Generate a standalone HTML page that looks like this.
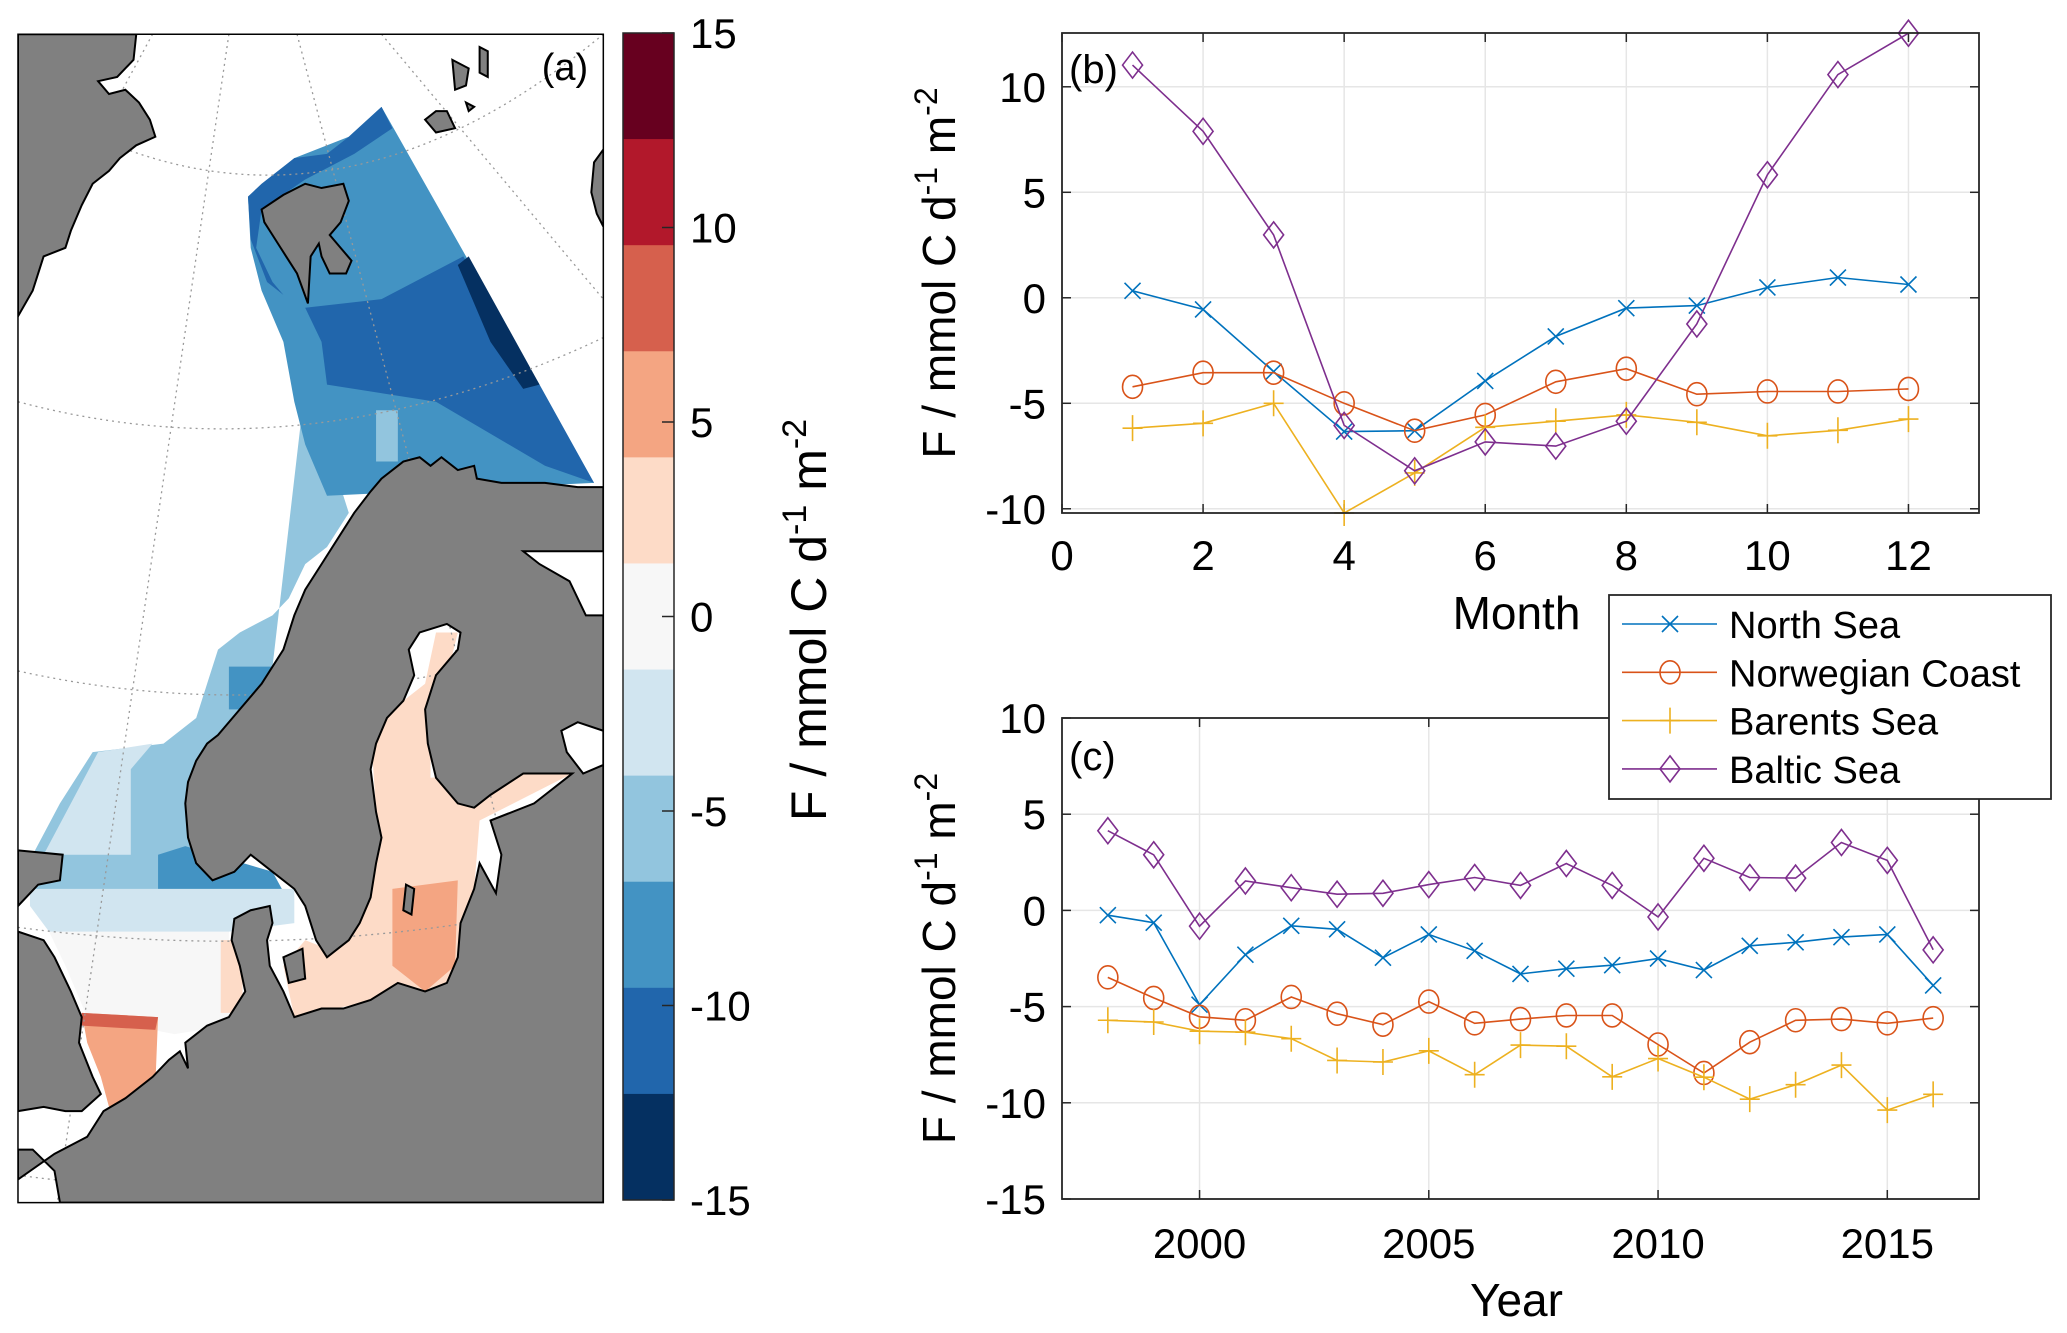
<!DOCTYPE html>
<html><head><meta charset="utf-8"><style>
html,body{margin:0;padding:0;background:#fff}
svg{display:block}
text{font-family:"Liberation Sans",Arial,sans-serif;fill:#000}
</style></head><body>
<svg id="fig" width="2067" height="1333" viewBox="0 0 2067 1333" xmlns="http://www.w3.org/2000/svg">
<defs><clipPath id="mapclip"><rect x="33" y="40" width="1074" height="1367"/></clipPath></defs>
<g transform="scale(0.545,0.8547)">
 <g clip-path="url(#mapclip)">
  <rect x="33" y="40" width="1074" height="1367" fill="#fff"/>
  <polygon fill="#92c5de" points="560,450 600,480 620,560 640,600 600,640 560,660 530,700 500,720 440,740 400,760 380,800 360,840 300,870 170,880 110,940 60,1000 55,1050 300,1050 400,1040 460,1000"/>
  <polygon fill="#4393c3" points="455,230 540,185 640,160 700,125 1090,565 600,580 560,520 540,470 520,400 480,340 460,290"/>
  <polygon fill="#2166ac" points="455,230 480,215 540,185 600,180 640,160 700,125 720,150 650,180 560,210 480,245 470,290 500,330 520,345 490,330 460,280"/>
  <polygon fill="#2166ac" points="560,360 700,350 850,300 990,450 1090,565 1000,545 800,470 600,450 590,400"/>
  <polygon fill="#053061" points="840,310 860,300 990,450 960,455 900,400"/>
  <polygon fill="#92c5de" points="690,480 730,480 730,540 690,540"/>
  <polygon fill="#4393c3" points="290,1000 340,990 500,1020 530,1055 290,1060"/>
  <polygon fill="#4393c3" points="420,780 500,780 500,830 420,830"/>
  <polygon fill="#d1e5f0" points="55,1040 540,1040 540,1080 420,1090 400,1130 200,1150 90,1090 55,1060"/>
  <polygon fill="#d1e5f0" points="80,1000 180,880 280,870 240,900 240,1000"/>
  <polygon fill="#f7f7f7" points="90,1090 420,1090 420,1200 320,1210 160,1190 120,1130"/>
  <polygon fill="#fddbc7" points="405,1100 445,1100 445,1185 405,1185"/>
  <polygon fill="#f4a582" points="150,1185 290,1190 285,1270 200,1295 185,1260 160,1220"/>
  <polygon fill="#d6604d" points="150,1185 290,1190 285,1205 150,1200"/>
  <polygon fill="#fddbc7" points="680,850 780,800 800,740 840,740 790,870 790,910 1000,900 1050,905 880,960 870,1040 840,1150 540,1190 520,1130 560,1100 600,1110 680,1050 690,950"/>
  <polygon fill="#f4a582" points="720,1040 840,1030 835,1130 780,1160 720,1130"/>
  <g fill="none" stroke="#999" stroke-width="1.3" stroke-dasharray="2,4">
   <path d="M33,110 Q560,330 1107,40" vector-effect="non-scaling-stroke"/>
   <path d="M33,470 Q560,560 1107,395" vector-effect="non-scaling-stroke"/>
   <path d="M33,785 Q560,860 1107,735" vector-effect="non-scaling-stroke"/>
   <path d="M33,1085 Q560,1130 1107,1050" vector-effect="non-scaling-stroke"/>
   <path d="M33,1375 Q560,1420 1107,1360" vector-effect="non-scaling-stroke"/>
   <path d="M420,40 L105,1407" vector-effect="non-scaling-stroke"/>
   <path d="M545,40 L760,560 L1080,1407" vector-effect="non-scaling-stroke"/>
   <path d="M700,40 L1107,350" vector-effect="non-scaling-stroke"/>
   <path d="M280,40 L33,330" vector-effect="non-scaling-stroke"/>
  </g>
  <g fill="#808080" stroke="#000" stroke-width="2">
   <polygon vector-effect="non-scaling-stroke" points="33,40 250,40 245,70 215,90 180,95 200,110 230,105 255,120 275,140 285,160 250,170 220,185 200,200 170,215 150,240 130,270 120,290 80,300 60,340 33,370"/>
   <polygon vector-effect="non-scaling-stroke" points="480,245 520,228 560,215 590,220 630,215 640,235 625,260 605,275 625,290 645,305 635,320 605,320 590,300 585,285 570,300 565,355 545,320 525,300 515,290 495,270 485,260"/>
   <polygon vector-effect="non-scaling-stroke" points="830,70 860,80 855,100 835,105"/>
   <polygon vector-effect="non-scaling-stroke" points="880,55 895,60 895,90 880,85"/>
   <polygon vector-effect="non-scaling-stroke" points="780,140 800,130 820,130 835,150 800,155"/>
   <polygon vector-effect="non-scaling-stroke" points="855,120 870,125 860,130"/>
   <polygon vector-effect="non-scaling-stroke" points="1090,190 1107,175 1107,265 1095,250 1085,225"/>
   <polygon vector-effect="non-scaling-stroke" points="33,995 115,1000 110,1030 70,1035 33,1060"/>
   <polygon vector-effect="non-scaling-stroke" points="33,1090 80,1100 100,1120 130,1160 150,1190 145,1220 170,1260 185,1280 150,1300 120,1300 80,1295 33,1300"/>
   <polygon vector-effect="non-scaling-stroke" points="700,560 740,540 770,535 790,545 810,535 840,550 870,545 875,560 920,565 1000,565 1060,570 1107,570 1107,645 960,645 990,660 1045,680 1075,720 1107,720 1107,1407 110,1407 100,1370 60,1345 33,1345 33,1380 100,1350 160,1330 190,1300 230,1285 280,1260 310,1240 330,1230 345,1250 340,1220 380,1200 420,1190 450,1160 440,1130 425,1100 430,1075 460,1065 495,1060 500,1080 490,1100 495,1130 520,1160 540,1190 590,1180 630,1180 680,1170 730,1150 780,1160 820,1150 840,1120 845,1080 870,1040 880,1010 910,1045 920,1000 900,960 980,940 1000,930 1040,910 1050,905 1000,905 960,905 900,930 870,945 840,940 800,910 785,870 780,830 800,790 840,760 845,740 820,730 770,740 750,760 760,790 740,820 710,840 690,870 680,900 690,950 700,980 690,1010 680,1050 660,1080 640,1100 620,1110 600,1120 580,1100 560,1060 540,1040 500,1020 460,1000 430,1020 390,1030 360,1010 345,980 340,940 345,915 360,890 380,870 400,860 440,830 480,800 520,760 540,720 560,690 590,660 620,630 650,600 680,575"/>
   <polygon vector-effect="non-scaling-stroke" points="520,1120 555,1110 560,1145 530,1150"/>
   <polygon vector-effect="non-scaling-stroke" points="745,1035 760,1040 755,1070 740,1065"/>
  </g>
  <polygon fill="#fff" stroke="#000" stroke-width="2" vector-effect="non-scaling-stroke" points="1030,855 1060,845 1107,855 1107,895 1070,905 1040,880"/>
 </g>
 <rect x="33" y="40" width="1074" height="1367" fill="none" stroke="#000" stroke-width="1.5" vector-effect="non-scaling-stroke"/>
</g>
<text x="565" y="80" font-size="38" text-anchor="middle">(a)</text>
<g id="cbar"></g>
<text transform="translate(826,620) rotate(-90)" font-size="50" text-anchor="middle">F / mmol C d<tspan dy="-20" font-size="34">-1</tspan><tspan dy="20"> m</tspan><tspan dy="-20" font-size="34">-2</tspan></text>
<g id="pb"></g>
<g id="pc"></g>
<g id="legend"></g>
</svg>
<script>
const NS='http://www.w3.org/2000/svg';
const cbarColors=['#67001f','#b2182b','#d6604d','#f4a582','#fddbc7','#f7f7f7','#d1e5f0','#92c5de','#4393c3','#2166ac','#053061'];
const cbarTicks=[15,10,5,0,-5,-10,-15];
const months=[1,2,3,4,5,6,7,8,9,10,11,12];
const bNorthSea=[0.33,-0.55,-3.5,-6.34,-6.3,-3.94,-1.83,-0.49,-0.37,0.49,0.96,0.63];
const bNorwegian=[-4.22,-3.55,-3.55,-5.0,-6.3,-5.55,-3.98,-3.36,-4.57,-4.44,-4.44,-4.32];
const bBarents=[-6.18,-5.95,-5.0,-10.2,-8.3,-6.14,-5.85,-5.55,-5.9,-6.54,-6.28,-5.75];
const bBaltic=[11.03,7.89,2.98,-6.05,-8.2,-6.83,-7.03,-5.85,-1.24,5.83,10.58,12.54];
const bXTicks=[0,2,4,6,8,10,12];
const bYTicks=[-10,-5,0,5,10];
const years=[1998,1999,2000,2001,2002,2003,2004,2005,2006,2007,2008,2009,2010,2011,2012,2013,2014,2015,2016];
const cNorthSea=[-0.25,-0.64,-4.9,-2.3,-0.8,-0.98,-2.46,-1.25,-2.1,-3.3,-3.03,-2.85,-2.5,-3.1,-1.84,-1.66,-1.39,-1.25,-3.9];
const cNorwegian=[-3.48,-4.55,-5.53,-5.71,-4.5,-5.37,-5.94,-4.74,-5.87,-5.65,-5.46,-5.46,-6.97,-8.45,-6.85,-5.71,-5.65,-5.87,-5.6];
const cBarents=[-5.71,-5.8,-6.28,-6.33,-6.67,-7.8,-7.88,-7.3,-8.54,-7.0,-7.06,-8.65,-7.7,-8.67,-9.81,-9.06,-8.04,-10.38,-9.56];
const cBaltic=[4.14,2.89,-0.82,1.53,1.18,0.84,0.89,1.34,1.71,1.3,2.44,1.3,-0.34,2.71,1.71,1.68,3.53,2.6,-2.05];
const cXTicks=[2000,2005,2010,2015];
const cYTicks=[-15,-10,-5,0,5,10];
const seriesNames=['North Sea','Norwegian Coast','Barents Sea','Baltic Sea'];
const seriesColors=['#0072BD','#D95319','#EDB120','#7E2F8E'];
const seriesMarkers=['x','o','+','d'];

function mk(tag,attrs,parent){const e=document.createElementNS(NS,tag);for(const k in attrs)e.setAttribute(k,attrs[k]);if(parent)parent.appendChild(e);return e;}

(function(){
  const g=document.getElementById('cbar');
  const x0=623,x1=674,y0=33,y1=1200;
  const vmin=-15,vmax=15;
  const sy=v=>y0+(vmax-v)/(vmax-vmin)*(y1-y0);
  const n=cbarColors.length, step=(vmax-vmin)/n;
  cbarColors.forEach((c,i)=>{
    const top=sy(vmax-i*step), bot=sy(vmax-(i+1)*step);
    const r=mk('rect',{x:x0,y:top,width:x1-x0,height:bot-top+0.5,fill:c},g);
    
    
  });
  mk('rect',{x:x0,y:y0,width:x1-x0,height:y1-y0,fill:'none',stroke:'#262626','stroke-width':1.5},g);
  cbarTicks.forEach(v=>{
    const y=sy(v);
    mk('line',{x1:x1-12,x2:x1,y1:y,y2:y,stroke:'#262626','stroke-width':1.5},g);
    const t=mk('text',{x:690,y:y+15,'font-size':42},g);t.textContent=String(v);
    
    
  });
})();

function marker(g,m,x,y,color){
  const s=10;
  let e;
  if(m==='x'){e=mk('path',{d:`M${x-s*0.8},${y-s*0.8}L${x+s*0.8},${y+s*0.8}M${x-s*0.8},${y+s*0.8}L${x+s*0.8},${y-s*0.8}`,stroke:color,'stroke-width':1.6,fill:'none'},g);}
  else if(m==='o'){e=mk('ellipse',{cx:x,cy:y,rx:s,ry:s*1.15,stroke:color,'stroke-width':1.6,fill:'none'},g);}
  else if(m==='+'){e=mk('path',{d:`M${x-s},${y}L${x+s},${y}M${x},${y-s*1.3}L${x},${y+s*1.3}`,stroke:color,'stroke-width':1.6,fill:'none'},g);}
  else {e=mk('path',{d:`M${x},${y-s*1.3}L${x+s},${y}L${x},${y+s*1.3}L${x-s},${y}Z`,stroke:color,'stroke-width':1.6,fill:'none'},g);}
  
  
}

function axes(id,box,xlim,ylim,xticks,yticks,xs,ys,xlabel,xlabelY,tickY,panelLabel,plY){
  const g=document.getElementById(id);
  const [L,T,R,B]=box;
  const sx=v=>L+(v-xlim[0])/(xlim[1]-xlim[0])*(R-L);
  const sy=v=>B-(v-ylim[0])/(ylim[1]-ylim[0])*(B-T);
  mk('rect',{x:L,y:T,width:R-L,height:B-T,fill:'#fff'},g);
  xticks.forEach(v=>{const x=sx(v);mk('line',{x1:x,x2:x,y1:T,y2:B,stroke:'#e6e6e6','stroke-width':1.5},g);});
  yticks.forEach(v=>{const y=sy(v);mk('line',{x1:L,x2:R,y1:y,y2:y,stroke:'#e6e6e6','stroke-width':1.5},g);});
  xticks.forEach(v=>{const x=sx(v);
    mk('line',{x1:x,x2:x,y1:B,y2:B-9,stroke:'#262626','stroke-width':1.5},g);
    mk('line',{x1:x,x2:x,y1:T,y2:T+9,stroke:'#262626','stroke-width':1.5},g);
    const t=mk('text',{x:x,y:tickY,'font-size':42,'text-anchor':'middle'},g);t.textContent=String(v);
    
    
  });
  yticks.forEach(v=>{const y=sy(v);
    mk('line',{x1:L,x2:L+9,y1:y,y2:y,stroke:'#262626','stroke-width':1.5},g);
    mk('line',{x1:R,x2:R-9,y1:y,y2:y,stroke:'#262626','stroke-width':1.5},g);
    const t=mk('text',{x:L-16,y:y+15,'font-size':42,'text-anchor':'end'},g);t.textContent=String(v);
    
    
  });
  ys.forEach((arr,i)=>{
    const sg=mk('g',{},g);
    
    
    const d=arr.map((v,j)=>(j?'L':'M')+sx(xs[j]).toFixed(1)+','+sy(v).toFixed(1)).join('');
    const p=mk('path',{d:d,stroke:seriesColors[i],'stroke-width':1.6,fill:'none'},sg);
    
    
    arr.forEach((v,j)=>marker(sg,seriesMarkers[i],sx(xs[j]),sy(v),seriesColors[i]));
  });
  mk('rect',{x:L,y:T,width:R-L,height:B-T,fill:'none',stroke:'#262626','stroke-width':1.8},g);
  const xl=mk('text',{x:(L+R)/2-4,y:xlabelY,'font-size':46,'text-anchor':'middle'},g);xl.textContent=xlabel;
  
  
  const yl=mk('text',{transform:`translate(${955},${(T+B)/2}) rotate(-90)`,'font-size':46,'text-anchor':'middle'},g);
  yl.innerHTML='F / mmol C d<tspan dy="-18" font-size="32">-1</tspan><tspan dy="18"> m</tspan><tspan dy="-18" font-size="32">-2</tspan>';
  
  
  const pl=mk('text',{x:L+7,y:plY,'font-size':40},g);pl.textContent=panelLabel;
  
  
}
axes('pb',[1062,33,1979,513],[0,13],[-10.2,12.55],bXTicks,bYTicks,months,[bNorthSea,bNorwegian,bBarents,bBaltic],'Month',629,570,'(b)',83);
axes('pc',[1062,718,1979,1199],[1997,2017],[-15,10],cXTicks,cYTicks,years,[cNorthSea,cNorwegian,cBarents,cBaltic],'Year',1316,1258,'(c)',770);

(function(){
  const g=document.getElementById('legend');
  mk('rect',{x:1609,y:595,width:442,height:204,fill:'#fff',stroke:'#262626','stroke-width':1.8},g);
  seriesNames.forEach((n,i)=>{
    const y=624+i*48.3;
    const eg=mk('g',{},g);
    
    
    mk('line',{x1:1622,x2:1717,y1:y,y2:y,stroke:seriesColors[i],'stroke-width':1.6},eg);
    marker(eg,seriesMarkers[i],1670,y,seriesColors[i]);
    const t=mk('text',{x:1729,y:y+14,'font-size':38},eg);t.textContent=n;
    
    
  });
})();
</script>
</body></html>
